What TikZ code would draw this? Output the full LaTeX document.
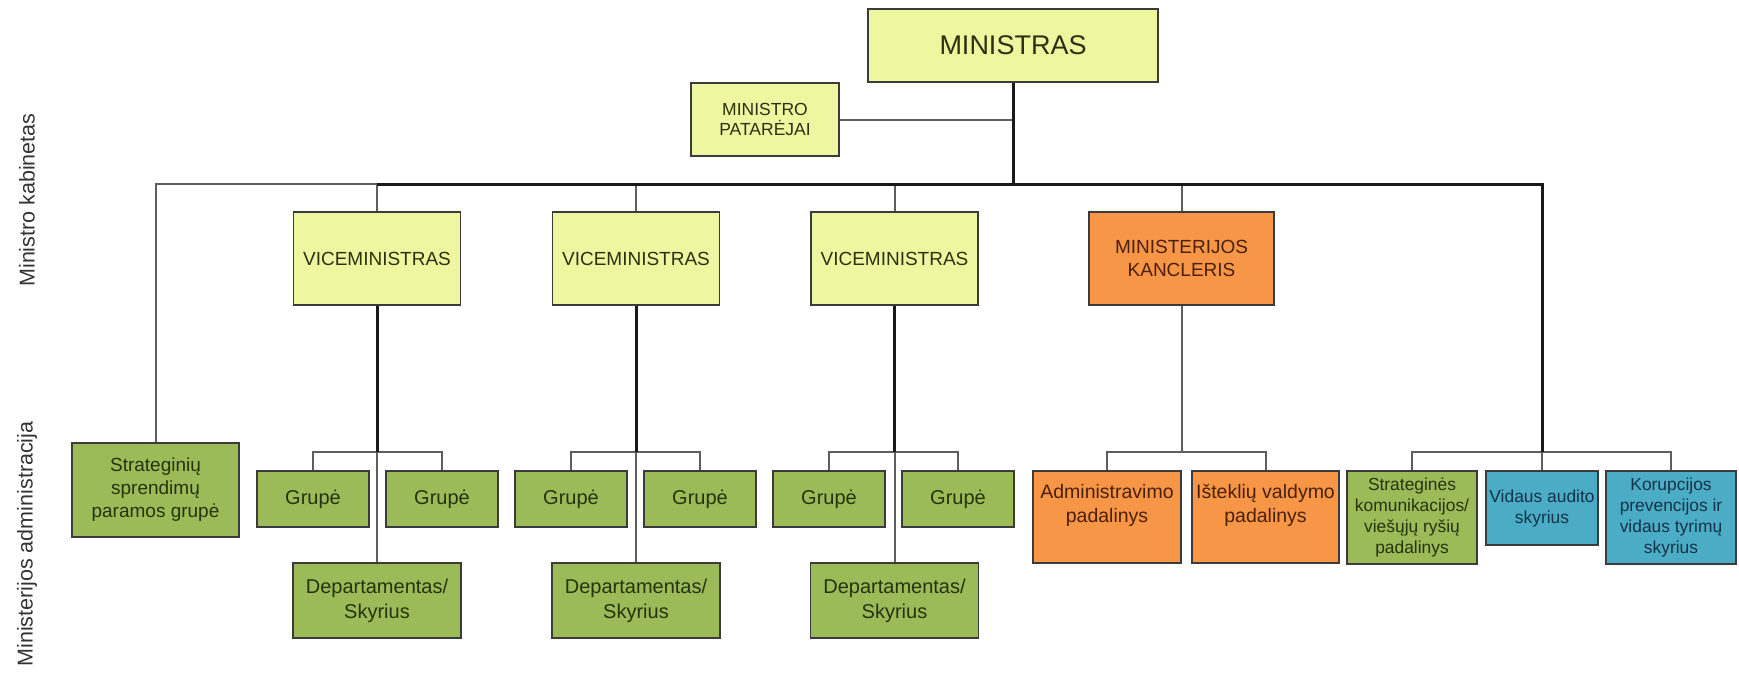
\documentclass[tikz,border=0pt]{standalone}
\usepackage{fontspec}
\setmainfont{Liberation Sans}
\definecolor{yel}{HTML}{EEF6A0}
\definecolor{grn}{HTML}{9BBB59}
\definecolor{org}{HTML}{F79646}
\definecolor{blu}{HTML}{4BACC6}
\definecolor{bord}{HTML}{3B3B3B}
\definecolor{tyel}{HTML}{2E3010}
\definecolor{tgrn}{HTML}{24330C}
\definecolor{torg}{HTML}{4A2008}
\definecolor{tblu}{HTML}{163246}
\definecolor{thinc}{HTML}{5E5E5E}
\begin{document}
\begin{tikzpicture}[x=1pt,y=-1pt,
  box/.style={draw=bord,line width=1.6pt,rectangle,inner sep=0pt,align=center},
  ybox/.style={box,fill=yel,text=tyel},
  gbox/.style={box,fill=grn,text=tgrn},
  obox/.style={box,fill=org,text=torg},
  bbox/.style={box,fill=blu,text=tblu},
  fa/.style={font=\fontsize{19}{23}\selectfont},
  fb/.style={font=\fontsize{20}{25}\selectfont},
  fc/.style={font=\fontsize{17.4}{21}\selectfont},
  thinl/.style={draw=thinc,line width=2pt},
  thickl/.style={draw=black!90,line width=3pt},
  sidelab/.style={rotate=90,font=\fontsize{21.5}{26}\selectfont,text=black!80}]
\useasboundingbox (0,0) rectangle (1739,672);

% side labels
\node[sidelab] (labA) at (27,200) {Ministro kabinetas};
\node[sidelab] (labB) at (27,544) {Ministerijos administracija};

% top level
\node[ybox,minimum width=290pt,minimum height=73pt,font=\fontsize{27}{32}\selectfont] (min) at (1013,45.5) {MINISTRAS};
\node[ybox,minimum width=148pt,minimum height=73pt,font=\fontsize{17.5}{20}\selectfont] (pat) at (765,119.5) {MINISTRO\\PATARĖJAI};

% second level
\node[gbox,fa,minimum width=167pt,minimum height=94pt] (sa) at (155.5,490) {Strateginių\\sprendimų\\paramos grupė};
\node[ybox,fa,minimum width=167pt,minimum height=93pt] (v1) at (377,258.5) {VICEMINISTRAS};
\node[ybox,fa,minimum width=167pt,minimum height=93pt] (v2) at (636,258.5) {VICEMINISTRAS};
\node[ybox,fa,minimum width=167pt,minimum height=93pt] (v3) at (894.5,258.5) {VICEMINISTRAS};
\node[obox,fa,minimum width=185pt,minimum height=93pt] (kan) at (1181.5,258.5) {MINISTERIJOS\\KANCLERIS};

% groups
\foreach \n/\x in {g1a/313,g1b/442,g2a/571,g2b/700,g3a/829,g3b/958}{
  \node[gbox,fb,minimum width=112pt,minimum height=56pt] (\n) at (\x,499) {Grupė};
}
\node[gbox,fb,minimum width=168pt,minimum height=75pt] (d1) at (377,600.5) {Departamentas/\\Skyrius};
\node[gbox,fb,minimum width=168pt,minimum height=75pt] (d2) at (636,600.5) {Departamentas/\\Skyrius};
\node[gbox,fb,minimum width=168pt,minimum height=75pt] (d3) at (894.5,600.5) {Departamentas/\\Skyrius};

% chancellor units
\node[obox,minimum width=148pt,minimum height=92pt] (adm) at (1107,517) {};
\node[text=torg,align=center,font=\fontsize{19.5}{24}\selectfont] (admT) at (1107,505) {Administravimo\\padalinys};
\node[obox,minimum width=147pt,minimum height=92pt] (ist) at (1265.5,517) {};
\node[text=torg,align=center,font=\fontsize{19.5}{24}\selectfont] (istT) at (1265.5,505) {Išteklių valdymo\\padalinys};

% right units
\node[gbox,fc,minimum width=130pt,minimum height=93pt] (skom) at (1412,517.5) {Strateginės\\komunikacijos/\\viešųjų ryšių\\padalinys};
\node[bbox,fc,minimum width=112pt,minimum height=74pt] (vid) at (1542,508) {Vidaus audito\\skyrius};
\node[bbox,fc,minimum width=130pt,minimum height=93pt] (kor) at (1671,517.5) {Korupcijos\\prevencijos ir\\vidaus tyrimų\\skyrius};

\coordinate (bus) at (0,184);
\coordinate (gb) at (0,452);

% thin connectors
\draw[thinl] (pat.east) -- (pat.east -| min.south);
\draw[thinl] (sa.north) |- (v1.north |- bus);
\foreach \v in {v1,v2,v3,kan}{ \draw[thinl] (\v.north |- bus) -- (\v.north); }
\draw[thinl] (g1a.north) |- (v1.south |- gb) -| (g1b.north);
\draw[thinl] (g2a.north) |- (v2.south |- gb) -| (g2b.north);
\draw[thinl] (g3a.north) |- (v3.south |- gb) -| (g3b.north);
\draw[thinl] (v1.south |- gb) -- (d1.north);
\draw[thinl] (v2.south |- gb) -- (d2.north);
\draw[thinl] (v3.south |- gb) -- (d3.north);
\draw[thinl] (kan.south) -- (kan.south |- gb);
\draw[thinl] (adm.north) |- (kan.south |- gb) -| (ist.north);
\draw[thinl] (skom.north) |- (vid.north |- gb) -| (kor.north);
\draw[thinl] (vid.north |- gb) -- (vid.north);

% thick connectors
\draw[thickl] (min.south) -- (min.south |- bus);
\draw[thickl] (v1.north |- bus) -- (vid.north |- bus) -- (vid.north |- gb);
\draw[thickl] (v1.south) -- (v1.south |- gb);
\draw[thickl] (v2.south) -- (v2.south |- gb);
\draw[thickl] (v3.south) -- (v3.south |- gb);
\end{tikzpicture}
\end{document}
